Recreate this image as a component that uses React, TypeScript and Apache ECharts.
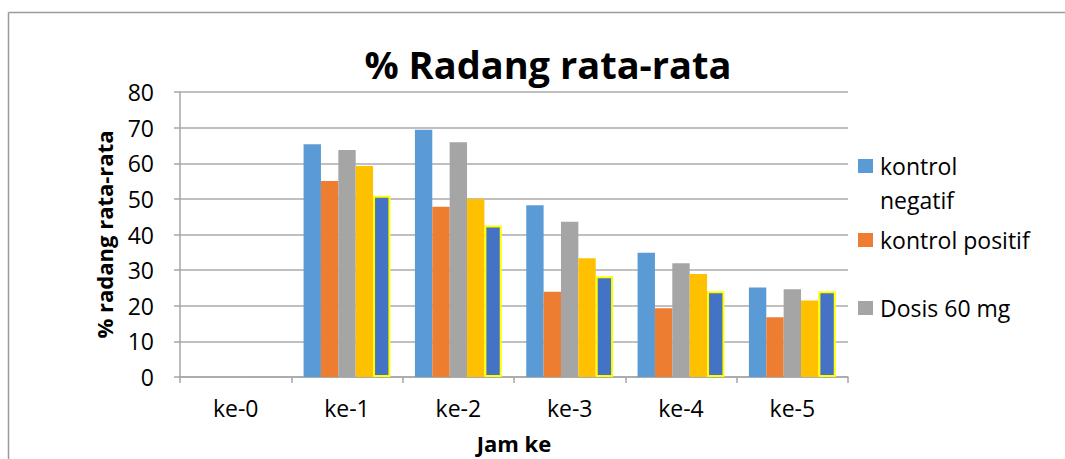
import React, { useEffect, useRef } from "react";
import * as echarts from "echarts";

const categories = ["ke-0", "ke-1", "ke-2", "ke-3", "ke-4", "ke-5"];
const kontrolNegatif = [null, 65.3, 69.4, 48.2, 34.9, 25.1];
const kontrolPositif = [null, 55.0, 47.8, 23.9, 19.3, 16.8];
const dosis60 = [null, 63.7, 65.9, 43.6, 31.9, 24.6];
const dosis120 = [null, 59.2, 50.0, 33.3, 28.9, 21.5];
const dosis240 = [null, 50.9, 42.5, 28.3, 24.1, 24.1];
const yTicks = { min: 0, max: 80, interval: 10 };

const FONT = "'Open Sans', 'Liberation Sans', sans-serif";

export default function App() {
  const ref = useRef<HTMLDivElement>(null);
  useEffect(() => {
    if (!ref.current) return;
    const chart = echarts.init(ref.current, null, { renderer: "svg" });
    const barBase = { type: "bar", barGap: "0%", barCategoryGap: "22%" };
    const legendItems = [
      { color: "#5B9BD5", lines: ["kontrol", "negatif"], y: 166 },
      { color: "#ED7D31", lines: ["kontrol positif"], y: 240 },
      { color: "#A5A5A5", lines: ["Dosis 60 mg"], y: 308 },
    ];
    const graphics: any[] = [
      { type: "line", shape: { x1: 8.5, y1: 12.5, x2: 1065, y2: 12.5 }, style: { stroke: "#9a9a9a", lineWidth: 1.5 } },
      { type: "line", shape: { x1: 8.5, y1: 12.5, x2: 8.5, y2: 459 }, style: { stroke: "#9a9a9a", lineWidth: 1.5 } },
    ];
    legendItems.forEach((it) => {
      graphics.push({ type: "rect", shape: { x: 858, y: it.y - 7, width: 15, height: 14 }, style: { fill: it.color } });
      it.lines.forEach((ln, i) => {
        graphics.push({
          type: "text",
          x: 880,
          y: it.y + i * 34,
          style: { text: ln, font: `23px ${FONT}`, fill: "#000", verticalAlign: "middle" },
        });
      });
    });
    chart.setOption({
      animation: false,
      backgroundColor: "#fff",
      title: {
        text: "% Radang rata-rata",
        left: 543,
        textAlign: "center",
        top: 40,
        textStyle: { fontFamily: FONT, fontSize: 38, fontWeight: "bold", color: "#000" },
      },
      grid: { left: 180, right: 217, top: 92, bottom: 82 },
      xAxis: {
        type: "category",
        data: categories,
        name: "Jam ke",
        nameLocation: "middle",
        nameGap: 55,
        nameTextStyle: { fontFamily: FONT, fontSize: 22, fontWeight: "bold", color: "#000" },
        axisLine: { lineStyle: { color: "#a6a6a6", width: 1.5 } },
        axisTick: { show: true, length: 6, lineStyle: { color: "#a6a6a6", width: 1.5 } },
        axisLabel: { fontFamily: FONT, fontSize: 23, color: "#000", margin: 19 },
      },
      yAxis: {
        type: "value",
        min: yTicks.min,
        max: yTicks.max,
        interval: yTicks.interval,
        name: "% radang rata-rata",
        nameLocation: "middle",
        nameGap: 65,
        nameTextStyle: { fontFamily: FONT, fontSize: 22, fontWeight: "bold", color: "#000" },
        axisLine: { show: true, lineStyle: { color: "#a6a6a6", width: 1.5 } },
        axisTick: { show: true, length: 6, lineStyle: { color: "#a6a6a6", width: 1.5 } },
        axisLabel: { fontFamily: FONT, fontSize: 23, color: "#000", margin: 26 },
        splitLine: { lineStyle: { color: "#ababab", width: 1.5 } },
      },
      legend: { show: false },
      series: [
        { ...barBase, name: "kontrol negatif", data: kontrolNegatif, itemStyle: { color: "#5B9BD5" } },
        { ...barBase, name: "kontrol positif", data: kontrolPositif, itemStyle: { color: "#ED7D31" } },
        { ...barBase, name: "Dosis 60 mg", data: dosis60, itemStyle: { color: "#A5A5A5" } },
        { ...barBase, name: "Dosis 120 mg", data: dosis120, itemStyle: { color: "#FFC000" } },
        { ...barBase, name: "Dosis 240 mg", data: dosis240, itemStyle: { color: "#4472C4", borderColor: "#FFFF00", borderWidth: 2 } },
      ],
      graphic: graphics,
    });
    return () => chart.dispose();
  }, []);
  return <div ref={ref} style={{ position: "fixed", left: 0, top: 0, width: 1065, height: 459, background: "#fff" }} />;
}
